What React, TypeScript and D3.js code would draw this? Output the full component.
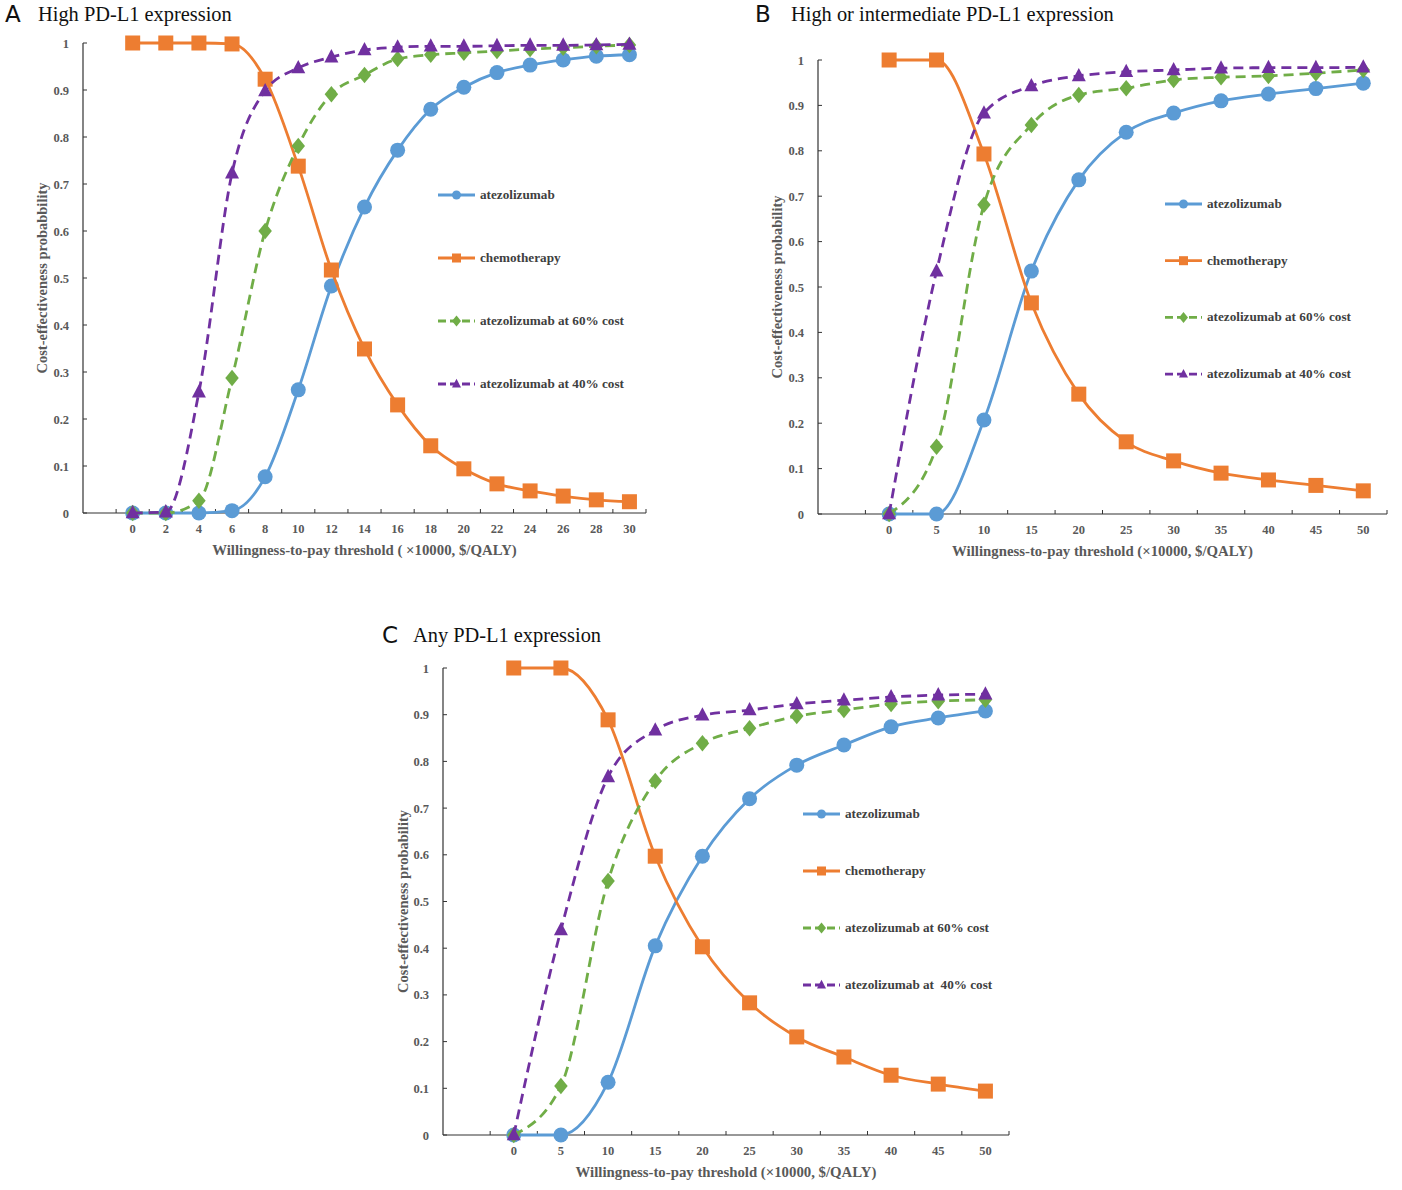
import { curveMonotoneX, line, range, scaleBand, scaleLinear, select } from "d3";
import { useEffect, useRef } from "react";

// panel A: high PD-L1, WTP 0..30 (x10000 $/QALY)
const A_WTP = ["0", "2", "4", "6", "8", "10", "12", "14", "16", "18", "20", "22", "24", "26", "28", "30"];
const A_ATEZO = [0, 0, 0, 0.005, 0.077, 0.262, 0.483, 0.651, 0.772, 0.859, 0.906, 0.937, 0.953, 0.964, 0.972, 0.975];
const A_CHEMO = [1, 1, 1, 0.998, 0.923, 0.738, 0.517, 0.349, 0.23, 0.143, 0.094, 0.062, 0.047, 0.036, 0.028, 0.024];
const A_ATEZO60 = [0, 0, 0.026, 0.287, 0.6, 0.781, 0.891, 0.932, 0.966, 0.975, 0.979, 0.983, 0.987, 0.99, 0.993, 0.996];
const A_ATEZO40 = [0, 0.002, 0.257, 0.723, 0.898, 0.947, 0.97, 0.985, 0.991, 0.993, 0.993, 0.994, 0.995, 0.995, 0.996, 0.997];

// panel B: high or intermediate PD-L1, WTP 0..50
const B_WTP = ["0", "5", "10", "15", "20", "25", "30", "35", "40", "45", "50"];
const B_ATEZO = [0, 0, 0.207, 0.535, 0.736, 0.841, 0.883, 0.91, 0.925, 0.937, 0.949];
const B_CHEMO = [1, 1, 0.793, 0.465, 0.264, 0.159, 0.117, 0.09, 0.075, 0.063, 0.051];
const B_ATEZO60 = [0, 0.148, 0.681, 0.857, 0.923, 0.938, 0.956, 0.962, 0.965, 0.971, 0.978];
const B_ATEZO40 = [0, 0.535, 0.883, 0.943, 0.965, 0.974, 0.978, 0.982, 0.983, 0.983, 0.984];

// panel C: any PD-L1, WTP 0..50
const C_WTP = ["0", "5", "10", "15", "20", "25", "30", "35", "40", "45", "50"];
const C_ATEZO = [0, 0, 0.113, 0.405, 0.597, 0.72, 0.792, 0.835, 0.874, 0.893, 0.908];
const C_CHEMO = [1, 1, 0.889, 0.597, 0.403, 0.283, 0.21, 0.167, 0.128, 0.109, 0.094];
const C_ATEZO60 = [0, 0.105, 0.544, 0.758, 0.839, 0.871, 0.897, 0.91, 0.923, 0.929, 0.932];
const C_ATEZO40 = [0, 0.439, 0.767, 0.867, 0.899, 0.91, 0.923, 0.931, 0.938, 0.942, 0.944];

const Y_TICKS = range(0, 11).map((i) => i / 10);

type Marker = "circle" | "square" | "diamond" | "triangle";
type Series = { name: string; values: number[]; color: string; dashed: boolean; marker: Marker };
type Panel = {
  letter: string;
  title: string;
  cats: string[];
  series: Series[];
  x0: number;
  x1: number;
  yTop: number;
  yBottom: number;
  titleY: number;
  letterX: number;
  titleX: number;
  xTitle: string;
  yTitle: string;
  yTitleX: number;
  legendX: number;
  legendY: number;
  legendStep: number;
};

const BLUE = "#5B9BD5";
const ORANGE = "#ED7D31";
const GREEN = "#70AD47";
const PURPLE = "#7030A0";

const makeSeries = (atezo: number[], chemo: number[], a60: number[], a40: number[], name40: string): Series[] => [
  { name: "atezolizumab", values: atezo, color: BLUE, dashed: false, marker: "circle" },
  { name: "chemotherapy", values: chemo, color: ORANGE, dashed: false, marker: "square" },
  { name: "atezolizumab at 60% cost", values: a60, color: GREEN, dashed: true, marker: "diamond" },
  { name: name40, values: a40, color: PURPLE, dashed: true, marker: "triangle" },
];

const PANELS: Panel[] = [
  {
    letter: "A",
    title: "High PD-L1 expression",
    cats: A_WTP,
    series: makeSeries(A_ATEZO, A_CHEMO, A_ATEZO60, A_ATEZO40, "atezolizumab at 40% cost"),
    x0: 83,
    x1: 646,
    yTop: 43,
    yBottom: 513,
    titleY: 21,
    letterX: 5,
    titleX: 38,
    xTitle: "Willingness-to-pay threshold ( ×10000, $/QALY)",
    yTitle: "Cost-effectiveness probabbility",
    yTitleX: 47,
    legendX: 438,
    legendY: 195,
    legendStep: 63,
  },
  {
    letter: "B",
    title: "High or intermediate PD-L1 expression",
    cats: B_WTP,
    series: makeSeries(B_ATEZO, B_CHEMO, B_ATEZO60, B_ATEZO40, "atezolizumab at 40% cost"),
    x0: 818,
    x1: 1387,
    yTop: 60,
    yBottom: 514,
    titleY: 21,
    letterX: 755,
    titleX: 791,
    xTitle: "Willingness-to-pay threshold (×10000, $/QALY)",
    yTitle: "Cost-effectiveness probability",
    yTitleX: 782,
    legendX: 1165,
    legendY: 204,
    legendStep: 56.7,
  },
  {
    letter: "C",
    title: "Any PD-L1 expression",
    cats: C_WTP,
    series: makeSeries(C_ATEZO, C_CHEMO, C_ATEZO60, C_ATEZO40, "atezolizumab at  40% cost"),
    x0: 443,
    x1: 1009,
    yTop: 668,
    yBottom: 1135,
    titleY: 642,
    letterX: 382,
    titleX: 413,
    xTitle: "Willingness-to-pay threshold (×10000, $/QALY)",
    yTitle: "Cost-effectiveness probability",
    yTitleX: 408,
    legendX: 803,
    legendY: 814,
    legendStep: 57,
  },
];

const SERIF = "'Liberation Serif', 'Times New Roman', serif";
const SANS = "'DejaVu Sans', 'Open Sans', sans-serif";
const AXIS_TEXT = "#595959";

// draws one marker centred on (cx, cy)
const drawMarker = (g: any, kind: Marker, cx: number, cy: number, s: number, color: string) => {
  if (kind === "circle") {
    g.append("circle").attr("cx", cx).attr("cy", cy).attr("r", s / 2).attr("fill", color);
  } else if (kind === "square") {
    g.append("rect")
      .attr("x", cx - s / 2)
      .attr("y", cy - s / 2)
      .attr("width", s)
      .attr("height", s)
      .attr("fill", color);
  } else if (kind === "diamond") {
    const w = s * 0.45;
    const h = s * 0.55;
    g.append("path")
      .attr("d", `M${cx},${cy - h}L${cx + w},${cy}L${cx},${cy + h}L${cx - w},${cy}Z`)
      .attr("fill", color);
  } else {
    const h = s * 0.95;
    g.append("path")
      .attr("d", `M${cx},${cy - h * 0.6}L${cx + s / 2},${cy + h * 0.4}L${cx - s / 2},${cy + h * 0.4}Z`)
      .attr("fill", color);
  }
};

const drawPanel = (svg: any, p: Panel) => {
  const g = svg.append("g");
  const x = scaleBand<string>().domain(["", ...p.cats]).range([p.x0, p.x1]);
  const half = x.bandwidth() / 2;
  const cx = (c: string) => (x(c) as number) + half;
  const y = scaleLinear().domain([0, 1]).range([p.yBottom, p.yTop]);

  // titles
  g.append("text")
    .attr("x", p.letterX)
    .attr("y", p.titleY + 1)
    .attr("font-family", SANS)
    .attr("font-size", 23)
    .attr("fill", "#111")
    .text(p.letter);
  g.append("text")
    .attr("x", p.titleX)
    .attr("y", p.titleY)
    .attr("font-family", SERIF)
    .attr("font-size", 20.4)
    .attr("fill", "#111")
    .text(p.title);

  // y axis, ticks pointing inward
  g.append("line")
    .attr("x1", p.x0)
    .attr("x2", p.x0)
    .attr("y1", y(1))
    .attr("y2", y(0))
    .attr("stroke", "#333")
    .attr("stroke-width", 1.2);
  Y_TICKS.forEach((t) => {
    g.append("line")
      .attr("x1", p.x0)
      .attr("x2", p.x0 + 4)
      .attr("y1", y(t))
      .attr("y2", y(t))
      .attr("stroke", "#333");
    g.append("text")
      .attr("x", p.x0 - 14)
      .attr("y", y(t) + 4.5)
      .attr("text-anchor", "end")
      .attr("font-family", SERIF)
      .attr("font-weight", "bold")
      .attr("font-size", 12.5)
      .attr("fill", AXIS_TEXT)
      .text(t === 0 ? "0" : t === 1 ? "1" : t.toFixed(1));
  });

  // x axis, ticks between categories pointing inward
  g.append("line")
    .attr("x1", p.x0)
    .attr("x2", p.x1)
    .attr("y1", y(0))
    .attr("y2", y(0))
    .attr("stroke", "#333")
    .attr("stroke-width", 1.2);
  [...p.cats.map((c) => x(c) as number), p.x1].forEach((tx) => {
    g.append("line")
      .attr("x1", tx)
      .attr("x2", tx)
      .attr("y1", y(0))
      .attr("y2", y(0) - 4)
      .attr("stroke", "#333");
  });
  p.cats.forEach((c) => {
    g.append("text")
      .attr("x", cx(c))
      .attr("y", y(0) + 20)
      .attr("text-anchor", "middle")
      .attr("font-family", SERIF)
      .attr("font-weight", "bold")
      .attr("font-size", 12.5)
      .attr("fill", AXIS_TEXT)
      .text(c);
  });

  g.append("text")
    .attr("x", (p.x0 + p.x1) / 2)
    .attr("y", y(0) + 42)
    .attr("text-anchor", "middle")
    .attr("font-family", SERIF)
    .attr("font-weight", "bold")
    .attr("font-size", 14.8)
    .attr("fill", AXIS_TEXT)
    .text(p.xTitle);
  g.append("text")
    .attr("transform", `translate(${p.yTitleX},${(p.yTop + p.yBottom) / 2}) rotate(-90)`)
    .attr("text-anchor", "middle")
    .attr("font-family", SERIF)
    .attr("font-weight", "bold")
    .attr("font-size", 14.5)
    .attr("fill", AXIS_TEXT)
    .text(p.yTitle);

  // lines then markers
  const sizes: Record<Marker, number> = { circle: 15, square: 15, diamond: 15, triangle: 14 };
  p.series.forEach((s) => {
    const pts: [number, number][] = p.cats.map((c, i) => [cx(c), y(s.values[i])]);
    const gen = line().curve(curveMonotoneX);
    g.append("path")
      .attr("d", gen(pts))
      .attr("fill", "none")
      .attr("stroke", s.color)
      .attr("stroke-width", 2.8)
      .attr("stroke-dasharray", s.dashed ? "10,6" : null);
    pts.forEach(([px, py]) => drawMarker(g, s.marker, px, py, sizes[s.marker], s.color));
  });

  // legend
  const legendSizes: Record<Marker, number> = { circle: 9, square: 9, diamond: 10, triangle: 9 };
  p.series.forEach((s, i) => {
    const ly = p.legendY + i * p.legendStep;
    g.append("line")
      .attr("x1", p.legendX)
      .attr("x2", p.legendX + 37)
      .attr("y1", ly)
      .attr("y2", ly)
      .attr("stroke", s.color)
      .attr("stroke-width", 2.8)
      .attr("stroke-dasharray", s.dashed ? "8,4" : null);
    drawMarker(g, s.marker, p.legendX + 18.5, ly, legendSizes[s.marker], s.color);
    g.append("text")
      .attr("x", p.legendX + 42)
      .attr("y", ly + 4)
      .attr("font-family", SERIF)
      .attr("font-weight", "bold")
      .attr("font-size", 13.2)
      .attr("fill", "#404040")
      .attr("xml:space", "preserve")
      .style("white-space", "pre")
      .text(s.name);
  });
};

const App = () => {
  const svgRef = useRef<SVGSVGElement>(null);

  useEffect(() => {
    const svg = select(svgRef.current);
    svg.selectAll("*").remove();
    PANELS.forEach((p) => drawPanel(svg, p));
  }, []);

  return (
    <svg
      ref={svgRef}
      width={1402}
      height={1190}
      viewBox="0 0 1402 1190"
      style={{ position: "absolute", left: 0, top: 0, background: "#fff" }}
    />
  );
};

export default App;
